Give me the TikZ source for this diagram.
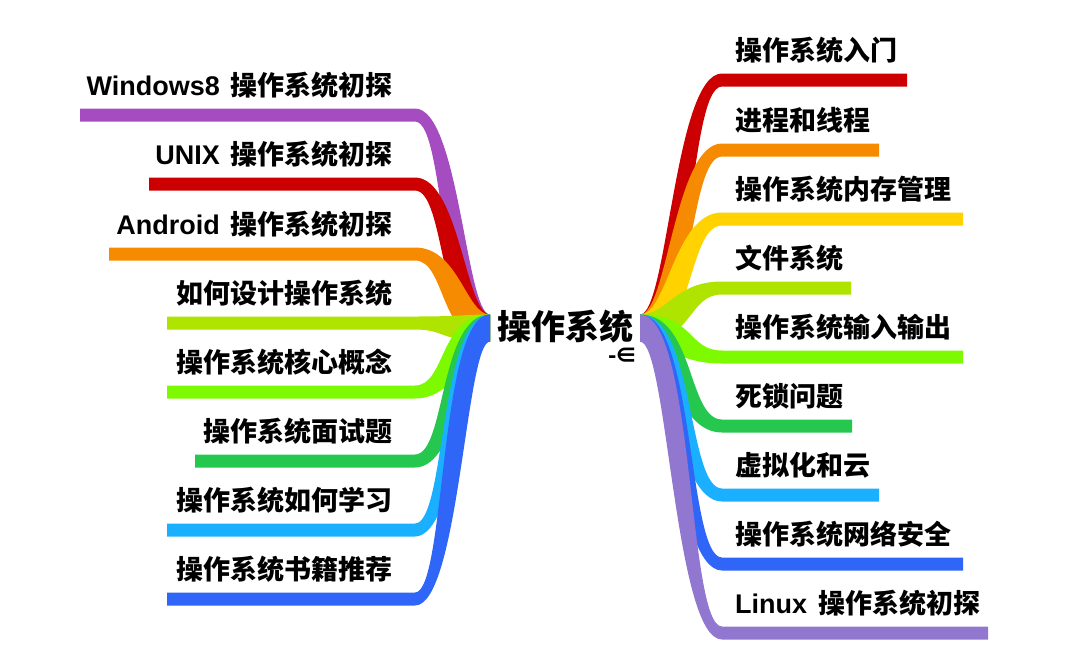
\documentclass[tikz,border=0pt]{standalone}
\usepackage{fontspec}
\setmainfont{Noto Sans CJK SC}
\newfontfamily\latinfont{Liberation Sans}
\usepackage{tikz}
\usetikzlibrary{calc}
\definecolor{mmpurple}{HTML}{A44CC0}
\definecolor{mmred}{HTML}{CC0000}
\definecolor{mmorange}{HTML}{F68A00}
\definecolor{mmyellow}{HTML}{FFD200}
\definecolor{mmlime}{HTML}{AEE400}
\definecolor{mmgreen}{HTML}{7EFA00}
\definecolor{mmdeep}{HTML}{25C74F}
\definecolor{mmsky}{HTML}{1AB0FF}
\definecolor{mmblue}{HTML}{2F66F8}
\definecolor{mmlilac}{HTML}{9177CF}

% tapered branch: colour, root, bend, end, side of the bend (+1/-1)
\newcommand{\ribbon}[5]{%
  \fill[#1] let \p0=(#2), \p1=(#3), \p2=(#4), \p3=($(#2)!0.5!(#3)$) in
    (\x0,\y0+13.5pt) .. controls ({\x3+(#5)*13.5pt},\y0+13.5pt)
      and ({\x3+(#5)*6.5pt},\y1+6.5pt) .. (\x1,\y1+6.5pt)
    -- (\x2,\y1+6.5pt) -- (\x2,\y1-6.5pt) -- (\x1,\y1-6.5pt)
    .. controls ({\x3-(#5)*6.5pt},\y1-6.5pt)
      and ({\x3-(#5)*13.5pt},\y0-13.5pt) .. (\x0,\y0-13.5pt) -- cycle;}

\begin{document}
\begin{tikzpicture}[
  x=1pt, y=-1pt,
  topic/.style={font=\fontsize{34}{40}\selectfont\bfseries, inner sep=0pt, anchor=base},
  leaf/.style={font=\fontsize{27}{32}\selectfont\bfseries, inner sep=0pt},
  leafL/.style={leaf, anchor=base east},
  leafR/.style={leaf, anchor=base west},
]
  \useasboundingbox (0,0) rectangle (1092,670);

  % Root of the map
  \coordinate (lroot) at (490,328);
  \coordinate (rroot) at (640,328);

  % Left bends and ends
  \coordinate (win) at (415,115);  \coordinate (win-e) at (80,115);
  \coordinate (unix) at (415,184); \coordinate (unix-e) at (149,184);
  \coordinate (andr) at (415,254); \coordinate (andr-e) at (109,254);
  \coordinate (design) at (415,323); \coordinate (design-e) at (167,323);
  \coordinate (core) at (415,392); \coordinate (core-e) at (167,392);
  \coordinate (intv) at (415,461); \coordinate (intv-e) at (195,461);
  \coordinate (learn) at (415,530); \coordinate (learn-e) at (167,530);
  \coordinate (books) at (415,599); \coordinate (books-e) at (167,599);

  % Right bends and ends
  \coordinate (intro) at (722,80);  \coordinate (intro-e) at (907,80);
  \coordinate (proc) at (722,150);  \coordinate (proc-e) at (879,150);
  \coordinate (mem) at (722,219);   \coordinate (mem-e) at (963,219);
  \coordinate (files) at (722,288); \coordinate (files-e) at (851,288);
  \coordinate (io) at (722,357);    \coordinate (io-e) at (963,357);
  \coordinate (lock) at (722,426);  \coordinate (lock-e) at (852,426);
  \coordinate (virt) at (722,495);  \coordinate (virt-e) at (879,495);
  \coordinate (net) at (722,564);   \coordinate (net-e) at (963,564);
  \coordinate (linux) at (722,633); \coordinate (linux-e) at (988,633);

  % Left branches, top to bottom
  \ribbon{mmpurple}{lroot}{win}{win-e}{1}
  \ribbon{mmred}{lroot}{unix}{unix-e}{1}
  \ribbon{mmorange}{lroot}{andr}{andr-e}{1}
  \ribbon{mmlime}{lroot}{design}{design-e}{1}
  \ribbon{mmgreen}{lroot}{core}{core-e}{-1}
  \ribbon{mmdeep}{lroot}{intv}{intv-e}{-1}
  \ribbon{mmsky}{lroot}{learn}{learn-e}{-1}
  \ribbon{mmblue}{lroot}{books}{books-e}{-1}

  % Right branches, top to bottom
  \ribbon{mmred}{rroot}{intro}{intro-e}{-1}
  \ribbon{mmorange}{rroot}{proc}{proc-e}{-1}
  \ribbon{mmyellow}{rroot}{mem}{mem-e}{-1}
  \ribbon{mmlime}{rroot}{files}{files-e}{-1}
  \ribbon{mmgreen}{rroot}{io}{io-e}{1}
  \ribbon{mmdeep}{rroot}{lock}{lock-e}{1}
  \ribbon{mmsky}{rroot}{virt}{virt-e}{1}
  \ribbon{mmblue}{rroot}{net}{net-e}{1}
  \ribbon{mmlilac}{rroot}{linux}{linux-e}{1}

  % Central topic
  \node[topic] (os) at (565,339) {操作系统};
  \node[font=\fontsize{22}{22}\selectfont\bfseries, inner sep=0pt] (fold) at (623,356) {-\kern-2pt∈};

  % Left labels
  \node[leafL] (win-t) at (393,95) {{\latinfont Windows8}\hspace{11pt}操作系统初探};
  \node[leafL] (unix-t) at (393,164) {{\latinfont UNIX}\hspace{11pt}操作系统初探};
  \node[leafL] (andr-t) at (393,234) {{\latinfont Android}\hspace{11pt}操作系统初探};
  \node[leafL] (design-t) at (393,303) {如何设计操作系统};
  \node[leafL] (core-t) at (393,372) {操作系统核心概念};
  \node[leafL] (intv-t) at (393,441) {操作系统面试题};
  \node[leafL] (learn-t) at (393,510) {操作系统如何学习};
  \node[leafL] (books-t) at (393,579) {操作系统书籍推荐};

  % Right labels
  \node[leafR] (intro-t) at (735,60) {操作系统入门};
  \node[leafR] (proc-t) at (735,130) {进程和线程};
  \node[leafR] (mem-t) at (735,199) {操作系统内存管理};
  \node[leafR] (files-t) at (735,268) {文件系统};
  \node[leafR] (io-t) at (735,337) {操作系统输入输出};
  \node[leafR] (lock-t) at (735,406) {死锁问题};
  \node[leafR] (virt-t) at (735,475) {虚拟化和云};
  \node[leafR] (net-t) at (735,544) {操作系统网络安全};
  \node[leafR] (linux-t) at (735,613) {{\latinfont Linux}\hspace{11pt}操作系统初探};
\end{tikzpicture}
\end{document}
